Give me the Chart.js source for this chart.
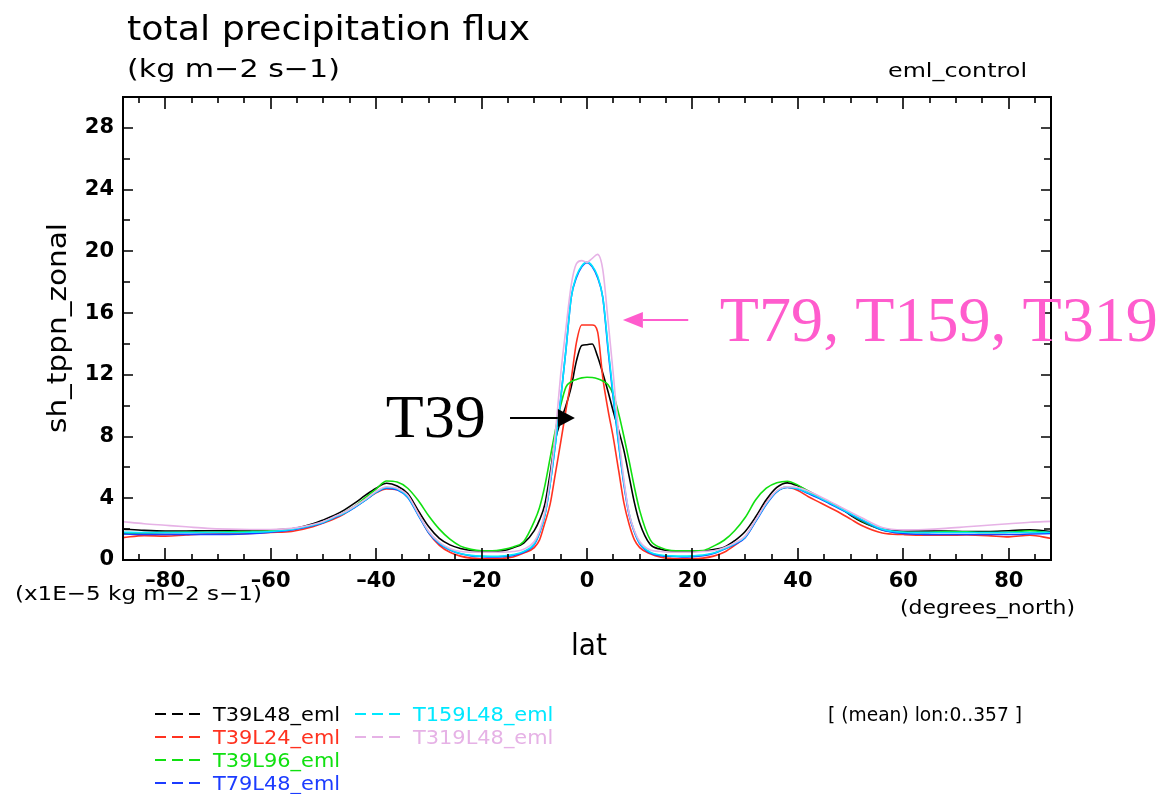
<!DOCTYPE html>
<html>
<head>
<meta charset="utf-8">
<title>total precipitation flux</title>
<script src="https://cdn.jsdelivr.net/npm/chart.js@4.4.1/dist/chart.umd.min.js"></script>
<style>
  html, body { margin: 0; padding: 0; background: #fff; }
  #wrap { width: 1162px; height: 794px; }
</style>
</head>
<body>
<div id="wrap"><canvas id="precipChart" width="1162" height="794"></canvas></div>
<script>
// latitude points (degrees_north)
const lats = [-88, -84, -80, -76, -72, -68, -64, -60, -56, -52,
  -50, -48, -46, -44, -42, -40, -38, -36, -34, -32, -30, -28, -26, -24, -22, -20, -18, -16, -14, -12, -10,
  -9, -8, -7, -6, -5, -4, -3, -2, -1, 0, 1, 2, 3, 4, 5, 6, 7, 8, 9,
  10, 12, 14, 16, 18, 20, 22, 24, 26, 28, 30, 32, 34, 36, 38, 40, 42, 44, 46, 48, 50, 52,
  56, 60, 64, 68, 72, 76, 80, 84, 88];

// zonal mean precipitation, x1E-5 kg m-2 s-1
const t39l48 = [2.0, 1.92, 1.88, 1.88, 1.9, 1.9, 1.92, 1.95, 2.02, 2.35,
  2.6, 2.88, 3.25, 3.7, 4.2, 4.65, 4.97, 4.8, 4.3, 3.2, 2.15, 1.4, 0.98, 0.75, 0.62, 0.56, 0.55, 0.6, 0.8, 1.1, 1.9,
  2.6, 3.6, 5.6, 7.8, 9.0, 10.0, 11.2, 12.9, 13.9, 13.95, 14.0, 13.2, 12.1, 10.9, 9.6, 8.4, 7.1, 5.4, 3.7,
  2.4, 1.0, 0.7, 0.58, 0.55, 0.55, 0.58, 0.68, 0.82, 1.25, 1.85, 2.8, 3.9, 4.7, 5.0, 4.8, 4.45, 4.1, 3.75, 3.4, 2.9, 2.5,
  2.0, 1.88, 1.88, 1.88, 1.85, 1.85, 1.9, 1.95, 1.85];
const t39l24 = [1.45, 1.58, 1.55, 1.62, 1.68, 1.7, 1.72, 1.78, 1.85, 2.15,
  2.4, 2.65, 3.0, 3.45, 3.9, 4.35, 4.6, 4.55, 4.15, 3.0, 1.75, 0.95, 0.5, 0.25, 0.12, 0.08, 0.07, 0.1, 0.2, 0.45, 0.8,
  1.3, 2.4, 3.6, 5.6, 7.6, 9.7, 11.7, 14.1, 15.23, 15.23, 15.23, 14.8, 11.8, 9.7, 7.9, 5.8, 3.7, 2.3, 1.3,
  0.8, 0.4, 0.18, 0.1, 0.08, 0.08, 0.12, 0.25, 0.5, 0.95, 1.5, 2.55, 3.7, 4.45, 4.72, 4.5, 4.1, 3.75, 3.4, 3.05, 2.65, 2.25,
  1.75, 1.65, 1.6, 1.6, 1.62, 1.58, 1.5, 1.6, 1.4];
const t39l96 = [1.72, 1.75, 1.78, 1.8, 1.8, 1.82, 1.85, 1.9, 2.0, 2.25,
  2.45, 2.75, 3.1, 3.5, 4.05, 4.6, 5.12, 5.05, 4.65, 3.85, 2.85, 2.0, 1.35, 0.9, 0.69, 0.6, 0.6, 0.68, 0.85, 1.2, 2.5,
  3.4, 4.8, 6.6, 8.4, 10.0, 11.2, 11.55, 11.7, 11.8, 11.84, 11.82, 11.75, 11.6, 11.35, 10.7, 9.5, 8.0, 6.4, 4.7,
  3.2, 1.3, 0.8, 0.62, 0.6, 0.6, 0.62, 0.9, 1.28, 1.9, 2.75, 3.9, 4.65, 5.0, 5.1, 4.85, 4.45, 4.1, 3.75, 3.35, 2.95, 2.55,
  1.95, 1.8, 1.78, 1.85, 1.82, 1.78, 1.8, 1.9, 1.75];
const t79l48 = [1.68, 1.66, 1.66, 1.66, 1.66, 1.66, 1.7, 1.8, 1.95, 2.22,
  2.42, 2.72, 3.02, 3.42, 3.88, 4.38, 4.66, 4.55, 4.05, 2.9, 1.75, 1.05, 0.65, 0.4, 0.27, 0.22, 0.2, 0.22, 0.3, 0.5, 1.0,
  1.75, 2.9, 4.9, 7.5, 10.4, 13.6, 17.0, 18.3, 19.0, 19.27, 19.0, 18.3, 17.0, 13.6, 10.4, 7.5, 4.9, 2.9, 1.8,
  1.05, 0.45, 0.28, 0.23, 0.2, 0.22, 0.28, 0.42, 0.7, 1.0, 1.45, 2.5, 3.6, 4.42, 4.7, 4.6, 4.3, 4.0, 3.65, 3.3, 2.95, 2.6,
  1.95, 1.72, 1.66, 1.65, 1.65, 1.65, 1.65, 1.68, 1.72];
const t159l48 = [1.8, 1.78, 1.78, 1.78, 1.78, 1.78, 1.8, 1.85, 1.98, 2.25,
  2.45, 2.75, 3.05, 3.45, 3.9, 4.4, 4.7, 4.6, 4.1, 2.95, 1.8, 1.1, 0.68, 0.42, 0.3, 0.25, 0.24, 0.26, 0.35, 0.55, 1.05,
  1.8, 2.9, 4.9, 7.5, 10.4, 13.6, 17.0, 18.4, 19.05, 19.3, 19.05, 18.4, 17.0, 13.8, 10.6, 7.6, 5.0, 3.0, 1.85,
  1.1, 0.5, 0.32, 0.27, 0.25, 0.27, 0.32, 0.45, 0.72, 1.05, 1.5, 2.55, 3.65, 4.45, 4.72, 4.62, 4.35, 4.05, 3.7, 3.35, 3.0, 2.65,
  2.0, 1.8, 1.78, 1.78, 1.78, 1.78, 1.78, 1.78, 1.8];
const t319l48 = [2.48, 2.35, 2.25, 2.15, 2.05, 2.0, 1.98, 1.98, 2.05, 2.3,
  2.5, 2.8, 3.1, 3.5, 3.95, 4.45, 4.75, 4.65, 4.2, 3.0, 1.85, 1.15, 0.75, 0.55, 0.5, 0.5, 0.5, 0.5, 0.55, 0.7, 1.2,
  1.9, 3.1, 5.2, 8.2, 12.0, 15.0, 17.8, 19.2, 19.4, 19.3, 19.55, 19.8, 18.8, 15.5, 12.0, 8.2, 5.2, 3.0, 1.9,
  1.2, 0.65, 0.55, 0.5, 0.5, 0.5, 0.55, 0.6, 0.8, 1.1, 1.55, 2.6, 3.7, 4.5, 4.75, 4.7, 4.45, 4.15, 3.8, 3.45, 3.1, 2.75,
  2.1, 1.95, 1.98, 2.05, 2.15, 2.25, 2.35, 2.45, 2.5];

const seriesNames = ['T39L48_eml', 'T39L24_eml', 'T39L96_eml', 'T79L48_eml', 'T159L48_eml', 'T319L48_eml'];
const seriesValues = [t39l48, t39l24, t39l96, t79l48, t159l48, t319l48];
const seriesColors = ['#000000', '#ff3220', '#10e010', '#1c3cff', '#00e8ff', '#e6b2e6'];

const xTickValues = [-80, -60, -40, -20, 0, 20, 40, 60, 80];
const yTickValues = [0, 4, 8, 12, 16, 20, 24, 28];

// hand annotations, placed in data units (lat, value)
const notes = [
  { text: 'T39', lat: -19.2, value: 7.97, align: 'right', color: '#000000', size: 62, w: 100 },
  { text: 'T79, T159, T319', lat: 25.2, value: 14.2, align: 'left', color: '#ff5ccd', size: 63, w: 438 }
];
const arrows = [
  { from: [-14.6, 9.2], to: [-2.3, 9.2], color: '#000000', head: 17, half: 9 },
  { from: [19.2, 15.55], to: [6.8, 15.55], color: '#ff5ccd', head: 20, half: 8 }
];

const SANS = '"DejaVu Sans", "Liberation Sans", sans-serif';
const SERIF = '"Liberation Serif", "DejaVu Serif", serif';

// draw text; w stretches it horizontally to a given width
function drawText(ctx, s, x, y, size, color, opts) {
    opts = opts || {};
    ctx.save();
    ctx.font = (opts.weight || 'normal') + ' ' + size + 'px ' + (opts.family || SANS);
    ctx.fillStyle = color;
    ctx.textBaseline = 'alphabetic';
    ctx.textAlign = 'left';
    const mw = ctx.measureText(s).width;
    const sx = opts.w ? opts.w / mw : (opts.sx || 1);
    let x0 = x;
    if (opts.align === 'right') x0 = x - mw * sx;
    if (opts.align === 'center') x0 = x - mw * sx / 2;
    ctx.translate(x0, y);
    if (opts.rotate) ctx.rotate(opts.rotate);
    ctx.scale(sx, 1);
    ctx.fillText(s, 0, 0);
    ctx.restore();
}

function fmtTick(v) {
    return v < 0 ? '\u2013' + Math.abs(v) : String(v);
}

// box with inward ticks on all four sides
const framePlugin = {
    id: 'frame',
    afterDatasetsDraw(chart) {
        const { ctx, chartArea: a, scales: { x, y } } = chart;
        ctx.save();
        ctx.strokeStyle = '#000';
        ctx.lineWidth = 2;
        ctx.strokeRect(a.left, a.top, a.right - a.left, a.bottom - a.top);
        ctx.lineWidth = 1.6;
        ctx.beginPath();
        for (let v = -85; v <= 85; v += 5) {
            const px = Math.round(x.getPixelForValue(v));
            const len = v % 20 === 0 ? 12 : 6;
            ctx.moveTo(px, a.bottom); ctx.lineTo(px, a.bottom - len);
            ctx.moveTo(px, a.top); ctx.lineTo(px, a.top + len);
        }
        for (let v = 2; v <= 28; v += 2) {
            const py = Math.round(y.getPixelForValue(v));
            const len = v % 4 === 0 ? 10 : 7;
            ctx.moveTo(a.left, py); ctx.lineTo(a.left + len, py);
            ctx.moveTo(a.right, py); ctx.lineTo(a.right - len, py);
        }
        ctx.stroke();
        ctx.restore();
    }
};

// titles, labels, legend and annotations
const textPlugin = {
    id: 'texts',
    afterDraw(chart) {
        const { ctx, scales: { x, y } } = chart;

        drawText(ctx, 'total precipitation flux', 127, 40, 34, '#000', { w: 403 });
        drawText(ctx, '(kg m\u22122 s\u22121)', 127, 77, 25, '#000', { w: 213 });
        drawText(ctx, 'eml_control', 888, 77, 19, '#000', { w: 139 });

        drawText(ctx, 'sh_tppn_zonal', 66, 433, 26, '#000', { w: 210, rotate: -Math.PI / 2 });
        drawText(ctx, '(x1E\u22125 kg m\u22122 s\u22121)', 15, 600, 20, '#000', { w: 247 });
        drawText(ctx, '(degrees_north)', 900, 614, 20, '#000', { w: 175 });
        drawText(ctx, 'lat', 589, 655, 30, '#000', { w: 36, align: 'center' });

        // legend, two columns
        const colX = [155, 355];
        const rowY = [714, 737, 760, 783];
        seriesNames.forEach((name, i) => {
            const cx = colX[i < 4 ? 0 : 1];
            const cy = rowY[i < 4 ? i : i - 4];
            ctx.save();
            ctx.strokeStyle = seriesColors[i];
            ctx.lineWidth = 2;
            ctx.beginPath();
            for (let k = 0; k < 3; k++) {
                ctx.moveTo(cx + k * 17, cy);
                ctx.lineTo(cx + k * 17 + 11, cy);
            }
            ctx.stroke();
            ctx.restore();
            drawText(ctx, name, cx + 58, cy + 7, 19, seriesColors[i], { sx: 1.1 });
        });
        drawText(ctx, '[ (mean) lon:0..357 ]', 828, 721, 19, '#000', { w: 194 });

        // annotations
        notes.forEach(n => {
            drawText(ctx, n.text, x.getPixelForValue(n.lat), y.getPixelForValue(n.value), n.size, n.color,
                { family: SERIF, w: n.w, align: n.align });
        });
        arrows.forEach(ar => {
            const x1 = x.getPixelForValue(ar.from[0]);
            const y1 = y.getPixelForValue(ar.from[1]);
            const x2 = x.getPixelForValue(ar.to[0]);
            const y2 = y.getPixelForValue(ar.to[1]);
            const dir = Math.sign(x2 - x1);
            ctx.save();
            ctx.strokeStyle = ar.color;
            ctx.fillStyle = ar.color;
            ctx.lineWidth = 2;
            ctx.beginPath();
            ctx.moveTo(x1, y1);
            ctx.lineTo(x2 - dir * ar.head, y2);
            ctx.stroke();
            ctx.beginPath();
            ctx.moveTo(x2, y2);
            ctx.lineTo(x2 - dir * ar.head, y2 - ar.half);
            ctx.lineTo(x2 - dir * ar.head, y2 + ar.half);
            ctx.closePath();
            ctx.fill();
            ctx.restore();
        });
    }
};

const tickFont = { family: SANS, size: 21, weight: 'bold' };

new Chart(document.getElementById('precipChart'), {
    type: 'line',
    data: {
        datasets: seriesValues.map((vals, i) => ({
            label: seriesNames[i],
            data: lats.map((lat, j) => ({ x: lat, y: vals[j] })),
            borderColor: seriesColors[i],
            borderWidth: 1.6,
            pointRadius: 0,
            fill: false,
            cubicInterpolationMode: 'monotone',
            order: seriesValues.length - i
        }))
    },
    options: {
        responsive: false,
        animation: false,
        devicePixelRatio: 1,
        events: [],
        layout: { padding: { left: 0, right: 111, top: 97, bottom: 194 } },
        plugins: {
            legend: { display: false },
            title: { display: false },
            tooltip: { enabled: false }
        },
        scales: {
            x: {
                type: 'linear',
                min: -88,
                max: 88,
                afterBuildTicks: s => { s.ticks = xTickValues.map(v => ({ value: v })); },
                afterFit: s => { s.height = 40; },
                grid: { display: false, drawTicks: false },
                border: { display: false },
                ticks: { padding: 9, maxRotation: 0, autoSkip: false, color: '#000', font: tickFont, callback: v => fmtTick(v) }
            },
            y: {
                type: 'linear',
                min: 0,
                max: 30,
                afterBuildTicks: s => { s.ticks = yTickValues.map(v => ({ value: v })); },
                afterFit: s => { s.width = 123; },
                grid: { display: false, drawTicks: false },
                border: { display: false },
                ticks: { padding: 9, autoSkip: false, color: '#000', font: tickFont, callback: v => fmtTick(v) }
            }
        }
    },
    plugins: [framePlugin, textPlugin]
});
</script>
</body>
</html>
